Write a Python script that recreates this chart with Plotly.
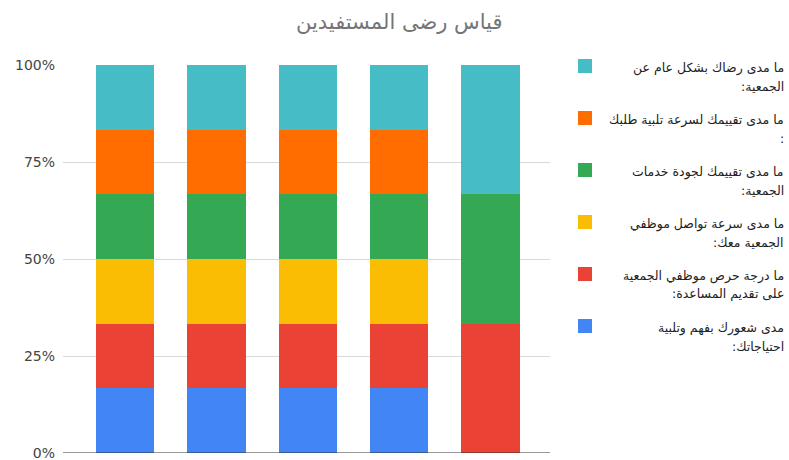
import plotly.graph_objects as go

categories = ["1", "2", "3", "4", "5"]
series_names = [
    "مدى شعورك بفهم وتلبية<br>احتياجاتك:",
    "ما درجة حرص موظفي الجمعية<br>على تقديم المساعدة:",
    "ما مدى سرعة تواصل موظفي<br>الجمعية معك:",
    "ما مدى تقييمك لجودة خدمات<br>الجمعية:",
    "ما مدى تقييمك لسرعة تلبية طلبك<br>:",
    "ما مدى رضاك بشكل عام عن<br>الجمعية:",
]
blue_vals = [1, 1, 1, 1, 0]
red_vals = [1, 1, 1, 1, 1]
yellow_vals = [1, 1, 1, 1, 0]
green_vals = [1, 1, 1, 1, 1]
orange_vals = [1, 1, 1, 1, 0]
teal_vals = [1, 1, 1, 1, 1]
series_values = [blue_vals, red_vals, yellow_vals, green_vals, orange_vals, teal_vals]
colors = ["#4285F4", "#EA4335", "#FBBC04", "#34A853", "#FF6D01", "#46BDC6"]
y_ticks = [0, 25, 50, 75, 100]
y_tick_labels = ["0%", "25%", "50%", "75%", "100%"]
title_text = "قياس رضى المستفيدين"

W, H = 789, 460
L, R, T, B = 63, 550, 65, 453
PW, PH = R - L, B - T


def px_x(x):
    return (x - L) / PW


def px_y(y):
    return (B - y) / PH


def visual_line(s):
    # the page lays Arabic lines out right-to-left; keep the trailing colon on the
    # right-hand side as in the original (left-to-right) rendering
    if len(s) > 1 and s.endswith(":"):
        return ":" + s[:-1]
    return s


fig = go.Figure()
for i, (name, vals, col) in enumerate(zip(series_names, series_values, colors)):
    fig.add_trace(go.Bar(
        x=categories, y=vals, name=name.replace("<br>", " "),
        marker=dict(color=col, line=dict(width=0)),
        width=0.64, showlegend=False,
    ))

# custom right-aligned legend
n = len(series_names)
for i, (name, col) in enumerate(zip(series_names, colors)):
    k = n - 1 - i
    cy = 66 + 52 * k
    fig.add_shape(type="rect", xref="paper", yref="paper",
                  x0=px_x(578), x1=px_x(592), y0=px_y(cy + 7), y1=px_y(cy - 7),
                  fillcolor=col, line=dict(width=0), layer="above")
    for j, line in enumerate(name.split("<br>")):
        fig.add_annotation(xref="paper", yref="paper", x=px_x(786), y=px_y(cy + 2 + 18 * j),
                           xanchor="right", yanchor="middle", align="right",
                           text=visual_line(line), showarrow=False,
                           font=dict(size=12.5, color="#222222"))

fig.update_layout(
    barmode="stack",
    barnorm="percent",
    width=W, height=H,
    margin=dict(l=L, r=W - R, t=T, b=H - B, autoexpand=False),
    paper_bgcolor="white", plot_bgcolor="white",
    font=dict(family="DejaVu Sans, Arial, sans-serif", color="#222222", size=11),
    title=dict(text=title_text, x=0.506, xanchor="center", xref="container",
               y=1 - 22 / H, yanchor="middle", yref="container",
               font=dict(size=21, color="#757575")),
    xaxis=dict(showticklabels=False, showgrid=False, zeroline=False, showline=False,
               ticks="", range=[-0.68, 4.65]),
    yaxis=dict(range=[0, 100], tickvals=y_ticks, ticktext=y_tick_labels,
               showgrid=True, gridcolor="#d9d9d9", gridwidth=1, zeroline=False,
               showline=False, ticks="", tickfont=dict(size=14, color="#444444"),
               ticklabelstandoff=7, ticklabeloverflow="allow"),
    showlegend=False,
)
fig.add_shape(type="line", xref="paper", yref="y", x0=0, x1=1, y0=0, y1=0,
              line=dict(color="#333333", width=1), layer="above")

fig.write_html("out.html", config={"displayModeBar": False},
               post_script="document.body.style.margin='0';")
